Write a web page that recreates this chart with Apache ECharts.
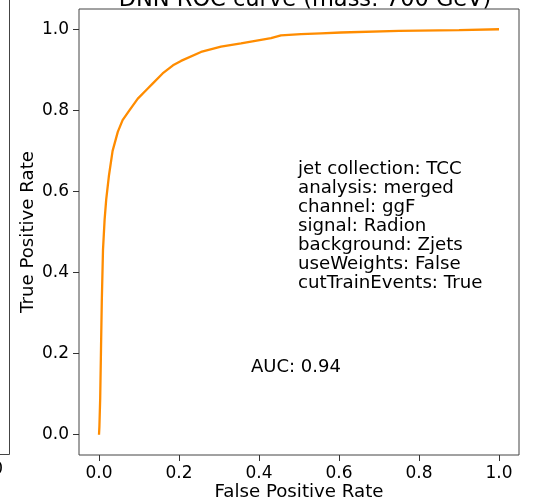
<!DOCTYPE html>
<html>
<head>
<meta charset="utf-8">
<script src="https://cdn.jsdelivr.net/npm/echarts@6/dist/echarts.min.js"></script>
<style>
html,body{margin:0;padding:0;background:#fff;}
#chart{width:533px;height:501px;}
</style>
</head>
<body>
<div id="chart"></div>
<script>
const titleText = 'DNN ROC curve (mass: 700 GeV)';
const fpr = [0, 0.001, 0.003, 0.005, 0.007, 0.010, 0.014, 0.018, 0.025, 0.034, 0.047, 0.059, 0.076, 0.097, 0.122, 0.134, 0.159, 0.185, 0.205, 0.255, 0.305, 0.355, 0.405, 0.43, 0.455, 0.505, 0.555, 0.605, 0.75, 0.9, 1.0];
const tpr = [0, 0.02, 0.09, 0.21, 0.33, 0.456, 0.53, 0.58, 0.64, 0.70, 0.747, 0.776, 0.80, 0.829, 0.854, 0.866, 0.891, 0.911, 0.922, 0.944, 0.957, 0.965, 0.974, 0.978, 0.985, 0.988, 0.990, 0.992, 0.996, 0.998, 1.0];
const tickValues = [0, 0.2, 0.4, 0.6, 0.8, 1.0];
const infoLines = ['jet collection: TCC', 'analysis: merged', 'channel: ggF', 'signal: Radion', 'background: Zjets', 'useWeights: False', 'cutTrainEvents: True'];
const aucText = 'AUC: 0.94';

const FONT = 'DejaVu Sans';
const chart = echarts.init(document.getElementById('chart'));
const axisCommon = {
  type: 'value', min: -0.05, max: 1.05,
  splitLine: {show: false},
  axisLine: {show: false, onZero: false},
  axisTick: {show: true, inside: false, length: 6, customValues: tickValues, lineStyle: {color: '#333', width: 1}},
  axisLabel: {customValues: tickValues, formatter: v => v.toFixed(1), color: '#000', fontFamily: FONT, fontSize: 17},
  nameLocation: 'middle',
  nameMoveOverlap: false,
  nameTextStyle: {color: '#000', fontFamily: FONT, fontSize: 18.2}
};
chart.setOption({
  animation: false,
  backgroundColor: '#fff',
  grid: {left: 79, right: 14, top: 9, bottom: 46, outerBoundsMode: 'none', containLabel: false, show: true, borderColor: '#444', borderWidth: 1, backgroundColor: 'transparent'},
  xAxis: Object.assign({}, axisCommon, {name: 'False Positive Rate', nameGap: 28,
    axisLabel: Object.assign({}, axisCommon.axisLabel, {margin: 10})}),
  yAxis: Object.assign({}, axisCommon, {name: 'True Positive Rate', nameGap: 42,
    axisLabel: Object.assign({}, axisCommon.axisLabel, {margin: 10})}),
  series: [{
    type: 'line',
    data: fpr.map((x, i) => [x, tpr[i]]),
    showSymbol: false,
    smooth: false,
    lineStyle: {color: '#ff8c00', width: 2.3},
    itemStyle: {color: '#ff8c00'}
  }],
  graphic: [
    {type: 'text', x: 305, y: 0, style: {text: titleText, fill: '#000', font: '22.5px "' + FONT + '"', textAlign: 'center', textVerticalAlign: 'middle'}},
    {type: 'text', x: 298, y: 160, style: {text: infoLines.join('\n'), fill: '#000', font: '18.2px "' + FONT + '"', lineHeight: 19, textAlign: 'left', textVerticalAlign: 'top'}},
    {type: 'text', x: 251, y: 367, style: {text: aucText, fill: '#000', font: '18px "' + FONT + '"', textAlign: 'left', textVerticalAlign: 'middle'}},
    {type: 'rect', shape: {x: -200, y: -20, width: 209.5, height: 474.5}, style: {fill: 'none', stroke: '#444', lineWidth: 1}},
    {type: 'text', x: 3, y: 470, style: {text: '1.0', fill: '#000', font: '17px "' + FONT + '"', textAlign: 'right', textVerticalAlign: 'middle'}}
  ]
});
</script>
</body>
</html>
